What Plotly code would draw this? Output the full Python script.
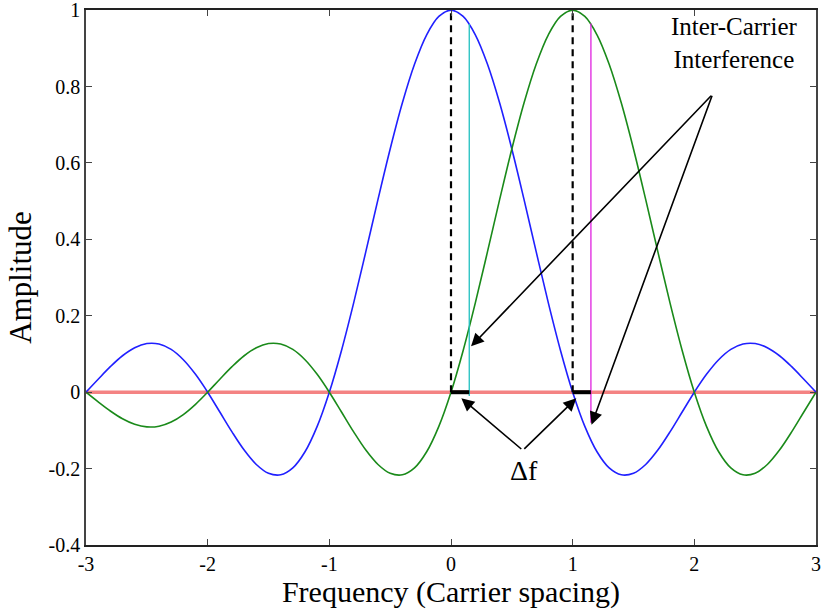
import plotly.graph_objects as go

# ---- data ----
freq = [round(-3 + 0.1 * i, 1) for i in range(61)]

blue_half = [0, 0.0339, 0.0668, 0.0954, 0.1164, 0.1273, 0.1261, 0.1120, 0.0850, 0.0468,
             0, -0.0518, -0.1039, -0.1515, -0.1892, -0.2122, -0.2162, -0.1981, -0.1559, -0.0894,
             0, 0.1093, 0.2339, 0.3679, 0.5046, 0.6366, 0.7568, 0.8584, 0.9355, 0.9836, 1.0]
blue_amp = blue_half + blue_half[-2::-1]

green_amp = [0, -0.0252, -0.0492, -0.0696, -0.0841, -0.0909, -0.0890, -0.0780, -0.0585, -0.0317,
             0, 0.0339, 0.0668, 0.0954, 0.1164, 0.1273, 0.1261, 0.1120, 0.0850, 0.0468,
             0, -0.0518, -0.1039, -0.1515, -0.1892, -0.2122, -0.2162, -0.1981, -0.1559, -0.0894,
             0, 0.1093, 0.2339, 0.3679, 0.5046, 0.6366, 0.7568, 0.8584, 0.9355, 0.9836,
             1.0, 0.9836, 0.9355, 0.8584, 0.7568, 0.6366, 0.5046, 0.3679, 0.2339, 0.1093,
             0, -0.0894, -0.1559, -0.1981, -0.2162, -0.2122, -0.1892, -0.1515, -0.1039, -0.0518, 0]

carrier_centers = [0, 1]
carrier_peak = 1.0
freq_offset = 0.15
cyan_line_y = [-0.01, 0.964]
magenta_line_y = [-0.08, 0.965]

ici_label = "Inter-Carrier<br>Interference"
ici_label_pos = [2.33, 0.915]
ici_arrow_tail = [2.15, 0.78]
ici_arrow_tips = [[0.165, 0.12], [1.155, -0.085]]

df_label = "Δf"
df_label_pos = [0.6, -0.205]
df_arrow_tail = [0.59, -0.152]
df_arrow_tips = [[0.085, -0.016], [1.03, -0.016]]

xticks = [-3, -2, -1, 0, 1, 2, 3]
xtick_text = ["-3", "-2", "-1", "0", "1", "2", "3"]
yticks = [-0.4, -0.2, 0, 0.2, 0.4, 0.6, 0.8, 1]
ytick_text = ["-0.4", "-0.2", "0", "0.2", "0.4", "0.6", "0.8", "1"]

FONT = "Liberation Serif"

fig = go.Figure()

# zero line (red)
fig.add_trace(go.Scatter(x=[freq[0], freq[-1]], y=[0, 0], mode="lines",
                         line=dict(color="rgba(240,90,90,0.75)", width=3.5), hoverinfo="skip"))

fig.add_trace(go.Scatter(x=freq, y=blue_amp, mode="lines", line=dict(color="#2020ff", width=1.6, shape="spline")))
fig.add_trace(go.Scatter(x=freq, y=green_amp, mode="lines", line=dict(color="#1a8a1a", width=1.6, shape="spline")))

# dashed carrier lines
for c in carrier_centers:
    fig.add_trace(go.Scatter(x=[c, c], y=[0, carrier_peak], mode="lines",
                             line=dict(color="black", width=2.2, dash="7px,5px")))

# offset lines
fig.add_trace(go.Scatter(x=[carrier_centers[0] + freq_offset] * 2, y=cyan_line_y, mode="lines",
                         line=dict(color="#20c0c0", width=1.3)))
fig.add_trace(go.Scatter(x=[carrier_centers[1] + freq_offset] * 2, y=magenta_line_y, mode="lines",
                         line=dict(color="#e020e0", width=1.3)))

# thick delta-f segments
for c in carrier_centers:
    fig.add_trace(go.Scatter(x=[c, c + freq_offset], y=[0, 0], mode="lines",
                             line=dict(color="black", width=4)))

annotations = []
for tip in ici_arrow_tips:
    annotations.append(dict(x=tip[0], y=tip[1], ax=ici_arrow_tail[0], ay=ici_arrow_tail[1],
                            xref="x", yref="y", axref="x", ayref="y", text="", showarrow=True,
                            arrowhead=2, arrowsize=1.6, arrowwidth=1.6, arrowcolor="black"))
for tip in df_arrow_tips:
    annotations.append(dict(x=tip[0], y=tip[1], ax=df_arrow_tail[0], ay=df_arrow_tail[1],
                            xref="x", yref="y", axref="x", ayref="y", text="", showarrow=True,
                            arrowhead=2, arrowsize=1.6, arrowwidth=1.6, arrowcolor="black"))
annotations.append(dict(x=ici_label_pos[0], y=ici_label_pos[1], xref="x", yref="y", text=ici_label,
                        showarrow=False, font=dict(family=FONT, size=25, color="black"), align="center"))
annotations.append(dict(x=df_label_pos[0], y=df_label_pos[1], xref="x", yref="y", text=df_label,
                        showarrow=False, font=dict(family=FONT, size=28, color="black")))

fig.update_layout(
    width=823, height=609,
    margin=dict(l=86, r=7, t=10, b=64),
    paper_bgcolor="white", plot_bgcolor="white",
    showlegend=False,
    font=dict(family=FONT, color="black"),
    annotations=annotations,
    xaxis=dict(range=[-3, 3], tickvals=xticks, ticktext=xtick_text, ticks="inside", ticklen=6,
               showgrid=False, zeroline=False, showline=True, linecolor="#222", linewidth=1.5,
               mirror="ticks", tickfont=dict(family=FONT, size=20), automargin=False,
               ticklabeloverflow="allow",
               title=dict(text="Frequency (Carrier spacing)", font=dict(family=FONT, size=30), standoff=4)),
    yaxis=dict(range=[-0.4, 1.0005], tickvals=yticks, ticktext=ytick_text, ticks="inside", ticklen=6,
               showgrid=False, zeroline=False, showline=True, linecolor="#444", linewidth=1.5,
               mirror="ticks", tickfont=dict(family=FONT, size=20), automargin=False,
               ticklabeloverflow="allow",
               title=dict(text="Amplitude", font=dict(family=FONT, size=31), standoff=8)),
)

fig.write_html("out.html")
